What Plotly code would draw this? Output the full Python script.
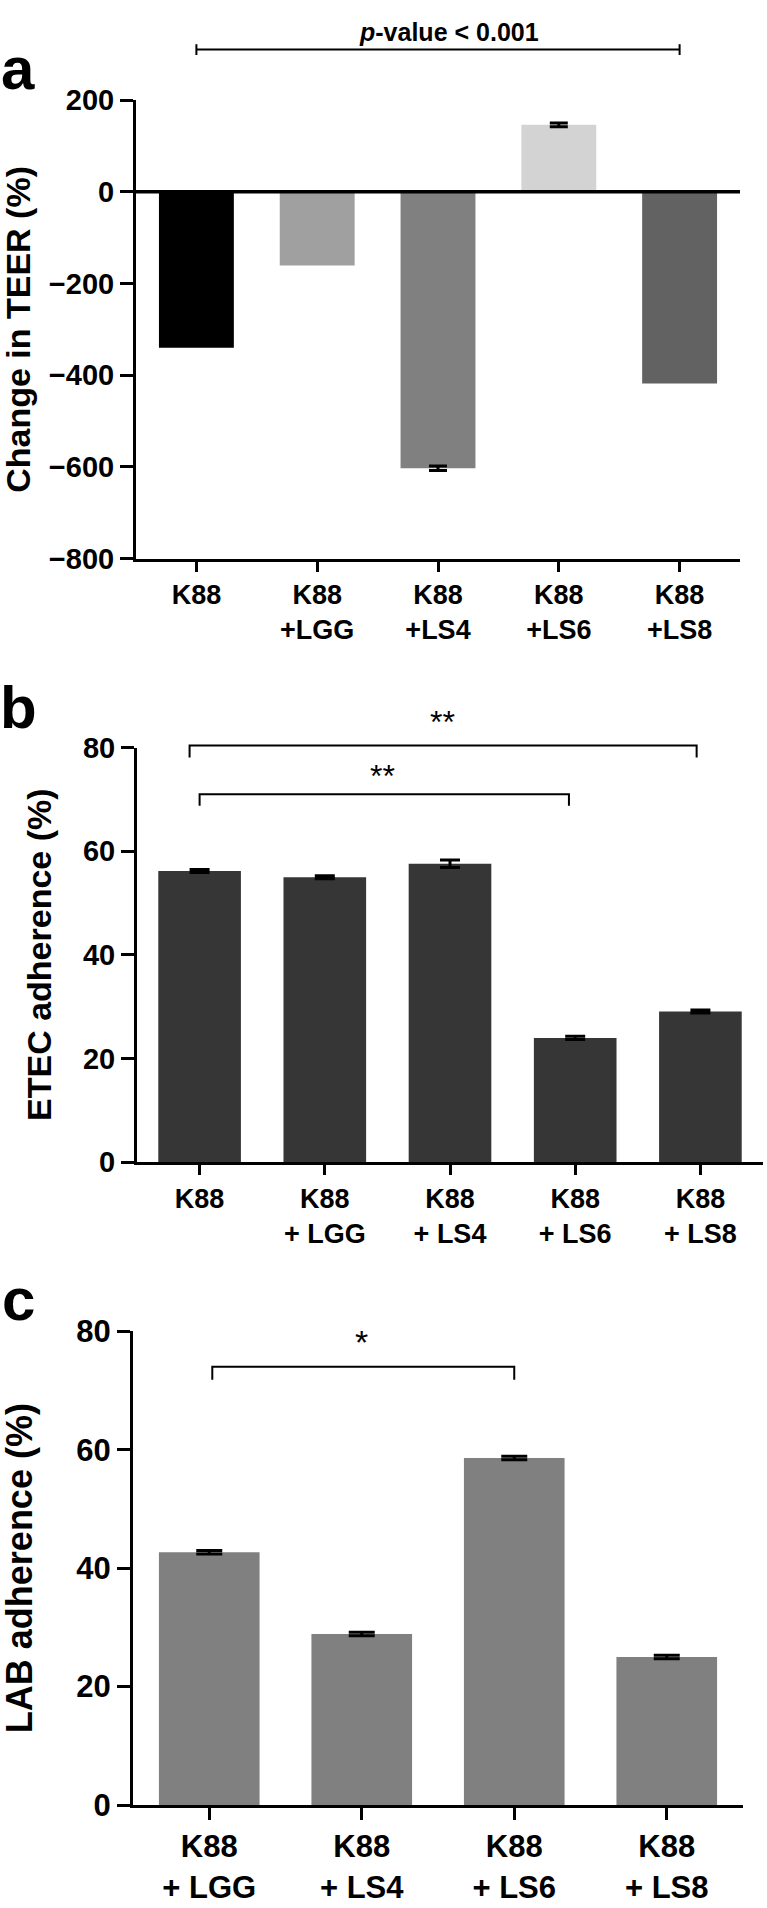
import plotly.graph_objects as go

FONT = "Liberation Sans, Arial, Helvetica, sans-serif"

# ---------------- data ----------------
cats_a = ["K88", "K88<br>+LGG", "K88<br>+LS4", "K88<br>+LS6", "K88<br>+LS8"]
teer = [-340, -161, -603, 146, -418]
teer_err = [0, 0, 5, 4, 0]
teer_colors = ["#000000", "#a0a0a0", "#808080", "#d3d3d3", "#626262"]
ticks_a = [-800, -600, -400, -200, 0, 200]

cats_b = ["K88", "K88<br>+ LGG", "K88<br>+ LS4", "K88<br>+ LS6", "K88<br>+ LS8"]
etec = [56.2, 55.0, 57.6, 24.0, 29.1]
etec_err = [0.3, 0.3, 0.7, 0.3, 0.3]
ticks_b = [0, 20, 40, 60, 80]

cats_c = ["K88<br>+ LGG", "K88<br>+ LS4", "K88<br>+ LS6", "K88<br>+ LS8"]
lab = [42.7, 28.9, 58.6, 25.0]
lab_err = [0.3, 0.3, 0.3, 0.3]
ticks_c = [0, 20, 40, 60, 80]

# significance brackets: (x_start, x_end, y_line, y_tip, label, label_x, label_y)
brackets_a = [(0.0, 4.0, 310, "p-value < 0.001")]
brackets_b = [(-0.08, 3.97, 80.4, 78.1, "**", 1.94, 85.0),
              (0.0, 2.95, 71.0, 68.8, "**", 1.46, 74.6)]
brackets_c = [(0.02, 2.0, 74.0, 71.8, "*", 1.0, 78.1)]

# ---------------- layout geometry ----------------
W, H = 767, 1908
dom_xa = [136 / W, 740 / W]
dom_ya = [1 - 551.7 / H, 1 - 84.6 / H]
dom_xb = [137 / W, 763 / W]
dom_yb = [1 - 1166.7 / H, 1 - 744.3 / H]
dom_xc = [133 / W, 743 / W]
dom_yc = [1 - 1821.5 / H, 1 - 1338.8 / H]
rng_a = [-800, 200]
rng_b = [0, 80]
rng_c = [0, 80]


def to_paper(v, dom, rng):
    return dom[0] + (v - rng[0]) / (rng[1] - rng[0]) * (dom[1] - dom[0])


fig = go.Figure()

# panel a
fig.add_trace(go.Bar(x=list(range(len(cats_a))), y=teer, marker=dict(color=teer_colors, line=dict(width=0)),
                     width=0.62, xaxis="x", yaxis="y", showlegend=False))
idx = [i for i, e in enumerate(teer_err) if e]
fig.add_trace(go.Scatter(x=idx, y=[teer[i] for i in idx], mode="markers", marker=dict(size=1, opacity=0),
                         error_y=dict(type="data", array=[teer_err[i] for i in idx], color="black",
                                      thickness=3, width=9),
                         xaxis="x", yaxis="y", showlegend=False))
# panel b
fig.add_trace(go.Bar(x=list(range(len(cats_b))), y=etec, marker=dict(color="#363636", line=dict(width=0)),
                     width=0.66, xaxis="x2", yaxis="y2", showlegend=False,
                     error_y=dict(type="data", array=etec_err, color="black", thickness=3, width=10)))
# panel c
fig.add_trace(go.Bar(x=list(range(len(cats_c))), y=lab, marker=dict(color="#808080", line=dict(width=0)),
                     width=0.66, xaxis="x3", yaxis="y3", showlegend=False,
                     error_y=dict(type="data", array=lab_err, color="black", thickness=3, width=13)))


def yax(dom, rng, tv, anchor, fs):
    return dict(domain=dom, range=rng, tickvals=tv, anchor=anchor, showline=True, linecolor="black",
                linewidth=3, ticks="outside", ticklen=13, tickwidth=3, tickcolor="black", showgrid=False,
                zeroline=False, tickfont=dict(family=FONT, size=fs, color="black", weight="bold"),
                fixedrange=True)


def xax(dom, n, cats, anchor, fs, tlen=10):
    return dict(domain=dom, range=[-0.5, n - 0.5], tickvals=list(range(n)), ticktext=cats, anchor=anchor,
                showline=True, linecolor="black", linewidth=3, ticks="outside", ticklen=tlen, tickwidth=3,
                tickcolor="black", showgrid=False, zeroline=False,
                tickfont=dict(family=FONT, size=fs, color="black", weight="bold"), fixedrange=True)


fig.update_layout(
    width=W, height=H, margin=dict(l=0, r=0, t=0, b=0),
    paper_bgcolor="white", plot_bgcolor="white",
    xaxis=xax(dom_xa, len(cats_a), cats_a, "y", 27),
    yaxis=yax(dom_ya, rng_a, ticks_a, "x", 29),
    xaxis2=xax(dom_xb, len(cats_b), cats_b, "y2", 27),
    yaxis2=yax(dom_yb, rng_b, ticks_b, "x2", 29),
    xaxis3=xax(dom_xc, len(cats_c), cats_c, "y3", 31, 12),
    yaxis3=yax(dom_yc, rng_c, ticks_c, "x3", 31),
)

shapes = []
annotations = []

# zero line of panel a, drawn above the bars
shapes.append(dict(type="line", xref="x domain", yref="y", x0=0, x1=1, y0=0, y1=0,
                   line=dict(color="black", width=3.5), layer="above"))

# p-value bracket panel a
for (x0, x1, yv, txt) in brackets_a:
    py = to_paper(yv, dom_ya, rng_a)
    cap = 5.5 / H
    shapes.append(dict(type="line", xref="x", yref="paper", x0=x0, x1=x1, y0=py, y1=py,
                       line=dict(color="black", width=2)))
    for xe in (x0, x1):
        shapes.append(dict(type="line", xref="x", yref="paper", x0=xe, x1=xe, y0=py - cap, y1=py + cap,
                           line=dict(color="black", width=2)))
    annotations.append(dict(xref="x", yref="paper", x=(x0 + x1) / 2 + 0.09, y=1 - 15 / H,
                            text="<i>p</i>-value < 0.001", showarrow=False, xanchor="center", yanchor="middle",
                            font=dict(family=FONT, size=25, color="black", weight="bold")))


def add_brackets(brs, xref, dom, rng, fs):
    for (x0, x1, yl, yt, txt, lx, ly) in brs:
        pl = to_paper(yl, dom, rng)
        pt = to_paper(yt, dom, rng)
        shapes.append(dict(type="path", xref=xref, yref="paper",
                           path=f"M {x0},{pt} L {x0},{pl} L {x1},{pl} L {x1},{pt}",
                           line=dict(color="black", width=2)))
        annotations.append(dict(xref=xref, yref="paper", x=lx, y=to_paper(ly, dom, rng), text=txt,
                                showarrow=False, xanchor="center", yanchor="middle",
                                font=dict(family=FONT, size=fs, color="black")))


add_brackets(brackets_b, "x2", dom_yb, rng_b, 32)
add_brackets(brackets_c, "x3", dom_yc, rng_c, 34)

# axis titles
titles = [("Change in TEER (%)", 18.5, dom_ya, 34), ("ETEC adherence (%)", 39, dom_yb, 34),
          ("LAB adherence (%)", 19, dom_yc, 36)]
for t, xpx, dom, fs in titles:
    annotations.append(dict(xref="paper", yref="paper", x=xpx / W, y=(dom[0] + dom[1]) / 2, text=t,
                            textangle=-90, showarrow=False, xanchor="center", yanchor="middle",
                            font=dict(family=FONT, size=fs, color="black", weight="bold")))

# panel letters
for letter, ypx in (("a", 52), ("b", 703), ("c", 1306)):
    annotations.append(dict(xref="paper", yref="paper", x=18 / W, y=1 - ypx / H, text=letter,
                            showarrow=False, xanchor="center", yanchor="middle",
                            font=dict(family=FONT, size=60, color="black", weight="bold")))

fig.update_layout(shapes=shapes, annotations=annotations)
fig.write_html("out.html", config={"displayModeBar": False},
               post_script="document.body.style.margin='0';document.body.style.overflow='hidden';")
